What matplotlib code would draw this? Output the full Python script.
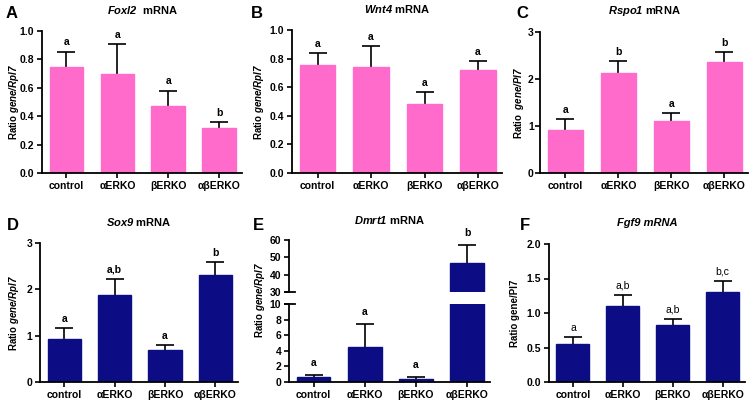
import matplotlib
matplotlib.use('Agg')
import matplotlib.pyplot as plt
import matplotlib.transforms as mtransforms
import numpy as np

plt.rcParams['font.family'] = ['Liberation Sans', 'DejaVu Sans']
plt.rcParams['font.weight'] = 'bold'
plt.rcParams['mathtext.fontset'] = 'custom'
plt.rcParams['mathtext.rm'] = 'Liberation Sans:italic:bold'
plt.rcParams['mathtext.it'] = 'Liberation Sans:italic:bold'
plt.rcParams['mathtext.bf'] = 'Liberation Sans:bold'

# ---------------- data ----------------
groups = ["control", "αERKO", "βERKO", "αβERKO"]

foxl2_mean = [0.75, 0.70, 0.475, 0.32]
foxl2_err = [0.105, 0.205, 0.105, 0.04]
foxl2_sig = ["a", "a", "a", "b"]

wnt4_mean = [0.755, 0.74, 0.485, 0.72]
wnt4_err = [0.085, 0.15, 0.08, 0.06]
wnt4_sig = ["a", "a", "a", "a"]

rspo1_mean = [0.92, 2.12, 1.10, 2.36]
rspo1_err = [0.23, 0.26, 0.17, 0.22]
rspo1_sig = ["a", "b", "a", "b"]

sox9_mean = [0.92, 1.87, 0.70, 2.32]
sox9_err = [0.25, 0.36, 0.10, 0.26]
sox9_sig = ["a", "a,b", "a", "b"]

dmrt1_mean = [0.7, 4.5, 0.4, 47.0]
dmrt1_err = [0.2, 2.9, 0.25, 10.0]
dmrt1_sig = ["a", "a", "a", "b"]

fgf9_mean = [0.55, 1.10, 0.82, 1.30]
fgf9_err = [0.10, 0.16, 0.10, 0.17]
fgf9_sig = ["a", "a,b", "a,b", "b,c"]

PINK = '#FF6BCB'
NAVY = '#0C0C84'

W, H = 755, 403
fig = plt.figure(figsize=(W / 100, H / 100), dpi=100)


def rect(l, r, t, b):
    return [l / W, 1 - b / H, (r - l) / W, (b - t) / H]


FS = 7.5
LFS = 7.0
x = np.arange(len(groups))


def style(ax, show_x=True, ypad=2):
    for s in ['top', 'right']:
        ax.spines[s].set_visible(False)
    for s in ['left', 'bottom']:
        ax.spines[s].set_linewidth(1.3)
    ax.tick_params(axis='both', width=1.2, length=3.5, labelsize=FS, pad=2)
    ax.tick_params(axis='y', pad=ypad)
    ax.set_xlim(-0.48, 3.45)
    if show_x:
        ax.set_xticks(x)
        ax.set_xticklabels(groups, fontweight='bold')
    for lb in ax.get_yticklabels():
        lb.set_fontweight('bold')


def bars(ax, means, errs, color):
    ax.bar(x, means, width=0.66, color=color, edgecolor=color, zorder=2)
    cont = ax.errorbar(x, means, yerr=[np.zeros(len(means)), errs], fmt='none',
                       ecolor='black', elinewidth=1.2, capsize=6.5,
                       capthick=1.2, zorder=1)
    # hide the lower caps (sit at the bar top)
    cont[1][0].set_visible(False)


def sig(ax, means, errs, labels, off=3, weight='bold', idx=None):
    for i, (m, e, s) in enumerate(zip(means, errs, labels)):
        if idx is not None and i not in idx:
            continue
        ax.annotate(s, (i, m + e), xytext=(0, off), textcoords='offset points',
                    ha='center', va='bottom', fontsize=FS, fontweight=weight)


def panel(pos, means, errs, color, labels, ylim, yticks, fmt, title, ylabel,
          letter, letter_xy, ylabel_x, title_italic=False, sig_weight='bold',
          ypad=2):
    ax = fig.add_axes(rect(*pos))
    bars(ax, means, errs, color)
    ax.set_ylim(*ylim)
    ax.set_yticks(yticks)
    ax.set_yticklabels([fmt.format(v) for v in yticks])
    style(ax, ypad=ypad)
    sig(ax, means, errs, labels, weight=sig_weight)
    cx = (pos[0] + pos[1]) / 2
    fig.text(cx / W, 1 - (pos[2] - 21) / H, title, ha='center', va='center',
             fontsize=FS + 0.5, fontweight='bold',
             fontstyle='italic' if title_italic else 'normal')
    fig.text(ylabel_x / W, 1 - ((pos[2] + pos[3]) / 2) / H, ylabel, rotation=90,
             ha='center', va='center', fontsize=LFS, fontweight='bold')
    fig.text(letter_xy[0] / W, 1 - letter_xy[1] / H, letter, ha='center',
             va='center', fontsize=12, fontweight='bold')
    return ax


panel((42, 242, 31, 173), foxl2_mean, foxl2_err, PINK, foxl2_sig, (0, 1.0),
      [0, 0.2, 0.4, 0.6, 0.8, 1.0], "{:.1f}", r"$\mathrm{Foxl2}$  mRNA",
      r"Ratio $\mathrm{gene/Rpl7}$", "A", (12, 13), 14)
panel((292, 502, 30, 173), wnt4_mean, wnt4_err, PINK, wnt4_sig, (0, 1.0),
      [0, 0.2, 0.4, 0.6, 0.8, 1.0], "{:.1f}", r"$\mathrm{Wnt4}$ mRNA",
      r"Ratio $\mathrm{gene/Rpl7}$", "B", (257, 13), 259)
panel((540, 748, 32, 173), rspo1_mean, rspo1_err, PINK, rspo1_sig, (0, 3),
      [0, 1, 2, 3], "{:d}", r"$\mathrm{Rspo1}$ mRNA",
      r"Ratio  $\mathrm{gene/Pl7}$", "C", (522, 13), 519, ypad=1)
panel((40, 238, 243, 382), sox9_mean, sox9_err, NAVY, sox9_sig, (0, 3),
      [0, 1, 2, 3], "{:d}", r"$\mathrm{Sox9}$ mRNA",
      r"Ratio $\mathrm{gene/Rpl7}$", "D", (13, 225), 14)
panel((549, 745, 244, 382), fgf9_mean, fgf9_err, NAVY, fgf9_sig, (0, 2.0),
      [0, 0.5, 1.0, 1.5, 2.0], "{:.1f}", "Fgf9 mRNA",
      "Ratio gene/Pl7", "F", (525, 225), 515, title_italic=True,
      sig_weight='normal')

# ---- panel E: broken axis ----
axt = fig.add_axes(rect(289, 490, 240, 292))
axb = fig.add_axes(rect(289, 490, 304, 382))
for ax in (axt, axb):
    bars(ax, dmrt1_mean, dmrt1_err, NAVY)
axt.set_ylim(30, 60)
axt.set_yticks([30, 40, 50, 60])
axb.set_ylim(0, 10)
axb.set_yticks([0, 2, 4, 6, 8, 10])
style(axb)
style(axt, show_x=False)
axt.spines['bottom'].set_visible(False)
axt.set_xticks([])
# break marks: short horizontal strokes across the spine at the break
for ax, yv in ((axt, 30), (axb, 10)):
    tr = mtransforms.blended_transform_factory(ax.transAxes, ax.transData)
    ax.plot([-0.02, 0.03], [yv, yv], color='black', lw=1.3, transform=tr,
            clip_on=False, zorder=5)
sig(axb, dmrt1_mean, dmrt1_err, dmrt1_sig, off=5, idx=[0, 1, 2])
sig(axt, dmrt1_mean, dmrt1_err, dmrt1_sig, off=5, idx=[3])
fig.text((289 + 490) / 2 / W, 1 - 220 / H, r"$\mathrm{Dmrt1}$ mRNA",
         ha='center', va='center', fontsize=FS + 0.5, fontweight='bold')
fig.text(260 / W, 1 - 300 / H, r"Ratio $\mathrm{gene/Rpl7}$", rotation=90,
         ha='center', va='center', fontsize=LFS, fontweight='bold')
fig.text(258 / W, 1 - 225 / H, "E", ha='center', va='center', fontsize=12,
         fontweight='bold')

fig.savefig('out.png', dpi=100)
